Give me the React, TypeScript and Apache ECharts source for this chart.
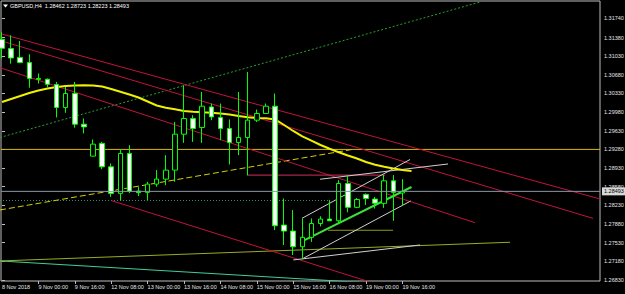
import React, { useEffect, useRef } from 'react';
import * as echarts from 'echarts';

const symbolName = 'GBPUSD,H4';

// H4 bars, index 0 = 8 Nov 08:00 ... index 44 = 19 Nov 16:00
const opens = [1.31346, 1.31172, 1.31004, 1.30910, 1.30610, 1.30597, 1.30498, 1.30067, 1.30329, 1.29754,
  1.29154, 1.29392, 1.28953, 1.28455, 1.29204, 1.28498, 1.28474, 1.28629, 1.28723, 1.28892,
  1.29566, 1.29860, 1.29692, 1.30078, 1.29879, 1.29673, 1.29411, 1.29504, 1.29829, 1.29954,
  1.30091, 1.27861, 1.27748, 1.27454, 1.27630, 1.27890, 1.27973, 1.27941, 1.28640, 1.28193,
  1.28436, 1.28348, 1.28268, 1.28691, 1.28462];
const highs = [1.31487, 1.31421, 1.31315, 1.31065, 1.30704, 1.30610, 1.30546, 1.30453, 1.30546, 1.29860,
  1.29467, 1.29422, 1.29017, 1.29285, 1.29360, 1.28573, 1.28672, 1.28892, 1.29173, 1.29797,
  1.30484, 1.29922, 1.30359, 1.30141, 1.30141, 1.29842, 1.30359, 1.30734, 1.30029, 1.30141,
  1.30329, 1.28359, 1.28142, 1.27984, 1.27984, 1.28026, 1.28329, 1.28704, 1.28798, 1.28370,
  1.28455, 1.28389, 1.28798, 1.28798, 1.28723];
const lows = [1.30990, 1.30891, 1.30900, 1.30438, 1.30516, 1.30447, 1.29880, 1.29967, 1.29688, 1.29580,
  1.29150, 1.28910, 1.28391, 1.28325, 1.28461, 1.28404, 1.28329, 1.28580, 1.28610, 1.28673,
  1.29403, 1.29422, 1.29403, 1.29829, 1.29454, 1.28997, 1.29173, 1.28791, 1.29794, 1.29954,
  1.27767, 1.27486, 1.27299, 1.27224, 1.27545, 1.27836, 1.27935, 1.27890, 1.28100, 1.28177,
  1.28236, 1.28171, 1.28183, 1.27940, 1.28223];
const closes = [1.31178, 1.30996, 1.30910, 1.30610, 1.30597, 1.30503, 1.30067, 1.30329, 1.29754, 1.29703,
  1.29379, 1.28953, 1.28455, 1.29204, 1.28498, 1.28470, 1.28629, 1.28723, 1.28892, 1.29566,
  1.29860, 1.29673, 1.30091, 1.29890, 1.29673, 1.29411, 1.29504, 1.29829, 1.29954, 1.30091,
  1.27848, 1.27748, 1.27454, 1.27630, 1.27890, 1.27973, 1.27941, 1.28640, 1.28193, 1.28340,
  1.28359, 1.28268, 1.28691, 1.28474, 1.28493];

// moving average (shifted one bar forward)
const maValues = [1.30170, 1.30226, 1.30282, 1.30339, 1.30386, 1.30423, 1.30451, 1.30470, 1.30479, 1.30483,
  1.30481, 1.30461, 1.30414, 1.30363, 1.30311, 1.30254, 1.30179, 1.30104, 1.30063, 1.30033,
  1.30001, 1.29988, 1.29977, 1.29967, 1.29954, 1.29935, 1.29907, 1.29883, 1.29870, 1.29866,
  1.29842, 1.29738, 1.29626, 1.29526, 1.29444, 1.29363, 1.29292, 1.29226, 1.29166, 1.29110,
  1.29044, 1.28992, 1.28954, 1.28922, 1.28894, 1.28875];

const priceTicks = [1.31740, 1.31380, 1.31030, 1.30680, 1.30330, 1.29980, 1.29630, 1.29280, 1.28930,
  1.28580, 1.28230, 1.27880, 1.27530, 1.27180, 1.26830];
const timeTickBars = [4, 8, 12, 16, 20, 24, 28, 32, 36, 40, 44];
const timeTickLabels = ['9 Nov 00:00', '9 Nov 16:00', '12 Nov 08:00', '13 Nov 00:00', '13 Nov 16:00',
  '14 Nov 08:00', '15 Nov 00:00', '15 Nov 16:00', '16 Nov 08:00', '19 Nov 00:00', '19 Nov 16:00'];
const firstLabelBar = 0;
const firstLabel = '8 Nov 2018';

const bidPrice = 1.28493;
const levelPrice = 1.29280;

// drawn objects: [barIndex, price] end points
const redLine1 = [[-0.22, 1.31455], [65.71, 1.28350]];
const redLine2 = [[-0.22, 1.31324], [64.95, 1.27986]];
const redLine3 = [[-0.22, 1.30813], [51.98, 1.27905]];
const redLine4 = [[12.05, 1.28318], [45.93, 1.26497]];
const redLevel = [[27, 1.28798], [42.1, 1.28798]];
const greenDotRise = [[-0.22, 1.29504], [52.64, 1.32051]];
const greenDotFlat = [[-0.22, 1.28322], [36.04, 1.28322]];
const yellowDash = [[-0.22, 1.28144], [38.57, 1.29282]];
const channelUpper = [[32.97, 1.27988], [44.84, 1.29091]];
const channelLower = [[32.97, 1.27224], [44.91, 1.28313]];
const channelMid = [[32.97, 1.27553], [45.0, 1.28575]];
const flatLower = [[32.01, 1.27206], [45.93, 1.27487]];
const flatUpper = [[34.95, 1.28720], [49.01, 1.29007]];
const oliveLong = [[-0.22, 1.27187], [55.82, 1.27538]];
const oliveShort = [[35.82, 1.27763], [42.97, 1.27763]];
const tealBottom = [[-0.22, 1.27187], [39.34, 1.26786]];

const X_MIN = -0.11;
const X_MAX = 65.71;
const Y_MIN = 1.26811;
const Y_MAX = 1.32065;

const FONT = '"Liberation Sans", Arial, sans-serif';
const TEXT = '#e6e6e6';

function seg(data: number[][], color: string, width: number, type: any, z = 2) {
  return {
    type: 'line',
    data,
    showSymbol: false,
    symbol: 'none',
    silent: true,
    z,
    lineStyle: { color, width, type },
  };
}

export default function App() {
  const ref = useRef<HTMLDivElement>(null);
  useEffect(() => {
    if (!ref.current) return;
    const chart = echarts.init(ref.current, null, { renderer: 'svg' });
    const last = opens.length - 1;
    const header = `${symbolName}  ${opens[last].toFixed(5)} ${highs[last].toFixed(5)} ${lows[last].toFixed(5)} ${closes[last].toFixed(5)}`;
    const xLabelMap = new Map<number, string>();
    xLabelMap.set(firstLabelBar, firstLabel);
    timeTickBars.forEach((b, k) => xLabelMap.set(b, timeTickLabels[k]));

    const candles = opens.map((o, i) => [i, o, closes[i], lows[i], highs[i]]);
    const ma = maValues.map((v, i) => [i, v]);

    chart.setOption({
      animation: false,
      backgroundColor: '#000000',
      grid: {
        left: 1, right: 25, top: 1, bottom: 13,
        show: true, borderColor: '#bdbdbd', borderWidth: 1,
        outerBoundsMode: 'none',
      },
      xAxis: {
        type: 'value', min: X_MIN, max: X_MAX,
        axisLine: { show: false },
        splitLine: { show: false },
        axisTick: { show: true, customValues: timeTickBars, length: 3, lineStyle: { color: '#bdbdbd' } },
        axisLabel: {
          customValues: [firstLabelBar, ...timeTickBars],
          formatter: (v: number) => xLabelMap.get(v) ?? '',
          color: TEXT, fontSize: 5.5, fontFamily: FONT, align: 'left', margin: 3,
        },
      },
      yAxis: {
        type: 'value', position: 'right', min: Y_MIN, max: Y_MAX,
        axisLine: { show: false },
        splitLine: { show: false },
        axisTick: { show: true, customValues: priceTicks, length: 3, lineStyle: { color: '#bdbdbd' } },
        axisLabel: {
          customValues: priceTicks,
          formatter: (v: number) => v.toFixed(5),
          color: TEXT, fontSize: 5.5, fontFamily: FONT, margin: 4,
        },
      },
      graphic: [
        { type: 'polygon', shape: { points: [[3, 4.5], [8, 4.5], [5.5, 7.5]] }, style: { fill: '#ffffff' }, z: 10 },
        { type: 'text', left: 10, top: 3, style: { text: header, fill: '#ffffff', font: `5.5px ${FONT}` }, z: 10 },
      ],
      series: [
        seg(tealBottom, '#3fcf9a', 1, 'solid'),
        seg(oliveLong, '#9aac1e', 1, 'solid'),
        seg(oliveShort, '#8c9c1a', 1, 'solid'),
        seg(greenDotRise, '#2aa02a', 1, [2, 2]),
        seg(greenDotFlat, '#2f9a66', 1, [1, 2]),
        seg(yellowDash, '#d0d000', 1, [6, 3]),
        seg([[X_MIN, levelPrice], [X_MAX, levelPrice]], '#d8b800', 1, 'solid'),
        seg(redLine1, '#c0143c', 1, 'solid'),
        seg(redLine2, '#c0143c', 1, 'solid'),
        seg(redLine3, '#c0143c', 1, 'solid'),
        seg(redLine4, '#c0143c', 1, 'solid'),
        seg(redLevel, '#d0305a', 1, 'solid'),
        seg(flatLower, '#d0d0d0', 1, 'solid'),
        seg(flatUpper, '#d0d0d0', 1, 'solid'),
        seg(channelUpper, '#d0d0d0', 1, 'solid'),
        seg(channelLower, '#d0d0d0', 1, 'solid'),
        seg(channelMid, '#3ee03e', 2, 'solid'),
        {
          ...seg([[X_MIN, bidPrice], [X_MAX, bidPrice]], '#8a96a6', 1, 'solid', 5),
          clip: false,
          endLabel: {
            show: true, distance: 2,
            formatter: () => bidPrice.toFixed(5),
            color: '#000000', backgroundColor: '#d8d8d8',
            fontSize: 5.5, fontFamily: FONT, padding: [1, 2],
          },
        },
        {
          type: 'line', data: ma, showSymbol: false, symbol: 'none', silent: true, z: 3,
          lineStyle: { color: '#f0f000', width: 2 },
        },
        {
          type: 'candlestick',
          data: candles,
          barWidth: 5,
          silent: true,
          z: 4,
          itemStyle: {
            color: '#000000', color0: '#ffffff',
            borderColor: '#00ff00', borderColor0: '#00ff00', borderWidth: 1,
          },
        },
      ],
    });
    return () => chart.dispose();
  }, []);
  return <div ref={ref} style={{ position: 'fixed', left: 0, top: 0, width: 625, height: 294 }} />;
}
